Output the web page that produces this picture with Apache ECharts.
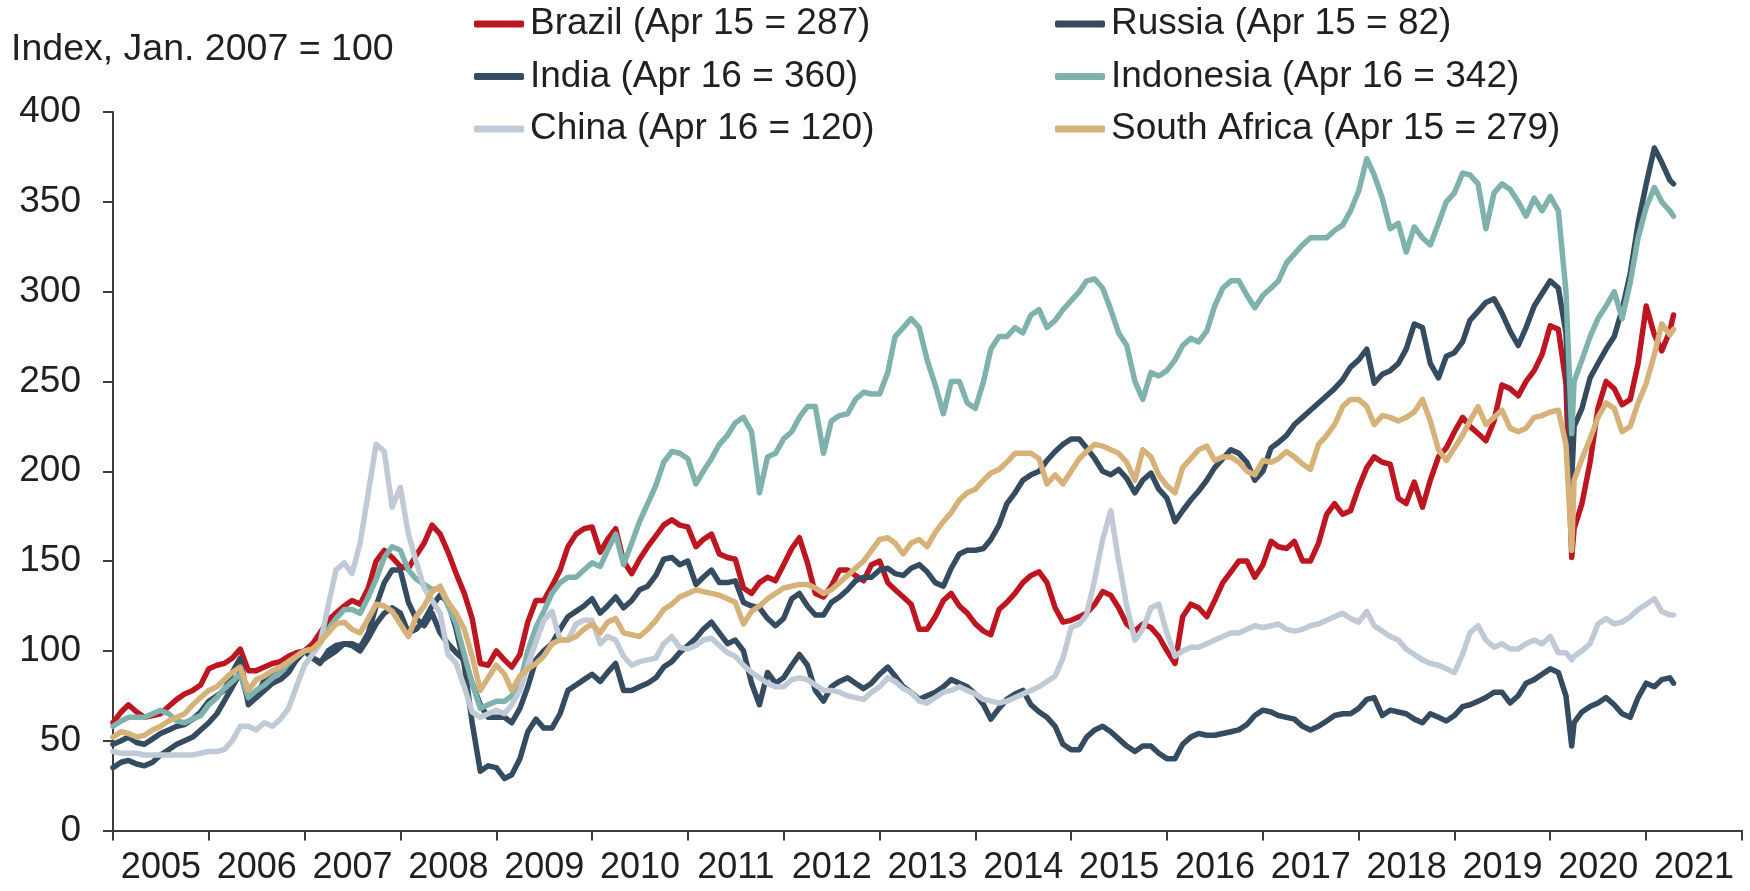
<!DOCTYPE html>
<html>
<head>
<meta charset="utf-8">
<script src="https://cdn.jsdelivr.net/npm/echarts@6/dist/echarts.min.js"></script>
<style>
  html, body { margin: 0; padding: 0; background: #fff; }
  #chart { width: 1750px; height: 891px; }
</style>
</head>
<body>
<div id="chart"></div>
<script>
// fechas: inicio de cada mes, más el mínimo de marzo 2020 y el último dato
var dates = [
  '2005-01','2005-02','2005-03','2005-04','2005-05','2005-06','2005-07','2005-08','2005-09','2005-10','2005-11','2005-12',
  '2006-01','2006-02','2006-03','2006-04','2006-05','2006-06','2006-07','2006-08','2006-09','2006-10','2006-11','2006-12',
  '2007-01','2007-02','2007-03','2007-04','2007-05','2007-06','2007-07','2007-08','2007-09','2007-10','2007-11','2007-12',
  '2008-01','2008-02','2008-03','2008-04','2008-05','2008-06','2008-07','2008-08','2008-09','2008-10','2008-11','2008-12',
  '2009-01','2009-02','2009-03','2009-04','2009-05','2009-06','2009-07','2009-08','2009-09','2009-10','2009-11','2009-12',
  '2010-01','2010-02','2010-03','2010-04','2010-05','2010-06','2010-07','2010-08','2010-09','2010-10','2010-11','2010-12',
  '2011-01','2011-02','2011-03','2011-04','2011-05','2011-06','2011-07','2011-08','2011-09','2011-10','2011-11','2011-12',
  '2012-01','2012-02','2012-03','2012-04','2012-05','2012-06','2012-07','2012-08','2012-09','2012-10','2012-11','2012-12',
  '2013-01','2013-02','2013-03','2013-04','2013-05','2013-06','2013-07','2013-08','2013-09','2013-10','2013-11','2013-12',
  '2014-01','2014-02','2014-03','2014-04','2014-05','2014-06','2014-07','2014-08','2014-09','2014-10','2014-11','2014-12',
  '2015-01','2015-02','2015-03','2015-04','2015-05','2015-06','2015-07','2015-08','2015-09','2015-10','2015-11','2015-12',
  '2016-01','2016-02','2016-03','2016-04','2016-05','2016-06','2016-07','2016-08','2016-09','2016-10','2016-11','2016-12',
  '2017-01','2017-02','2017-03','2017-04','2017-05','2017-06','2017-07','2017-08','2017-09','2017-10','2017-11','2017-12',
  '2018-01','2018-02','2018-03','2018-04','2018-05','2018-06','2018-07','2018-08','2018-09','2018-10','2018-11','2018-12',
  '2019-01','2019-02','2019-03','2019-04','2019-05','2019-06','2019-07','2019-08','2019-09','2019-10','2019-11','2019-12',
  '2020-01','2020-02','2020-03','2020-03-23','2020-04','2020-05','2020-06','2020-07','2020-08','2020-09','2020-10','2020-11','2020-12',
  '2021-01','2021-02','2021-03','2021-04','2021-04-15'
];

var brazil = [
  60, 66, 70, 66, 63, 64, 65, 69, 73, 76, 78, 81,
  90, 92, 93, 96, 101, 89, 89, 91, 93, 94, 97, 99,
  100, 104, 110, 117, 121, 125, 128, 126, 135, 150, 156, 152,
  147, 146, 153, 160, 170, 165, 155, 143, 132, 118, 93, 92,
  100, 95, 91, 98, 116, 128, 128, 136, 145, 158, 165, 168,
  169, 155, 162, 168, 150, 143, 151, 158, 164, 170, 173, 170,
  169, 158, 162, 165, 154, 152, 151, 135, 132, 138, 141, 139,
  148, 157, 163, 149, 132, 130, 136, 145, 145, 142, 139, 148,
  150, 138, 134, 130, 126, 112, 112, 119, 128, 132, 125, 121,
  115, 111, 109, 123, 127, 132, 138, 142, 144, 138, 124, 116,
  117, 119, 121, 126, 133, 131, 124, 115, 111, 115, 113, 108,
  100, 93, 119, 126, 124, 119, 128, 138, 144, 150, 150, 141,
  148, 161, 158, 157, 161, 150, 150, 160, 176, 182, 176, 178,
  191, 202, 208, 205, 204, 185, 182, 194, 180, 195, 208, 213,
  222, 230, 225, 221, 217, 228, 248, 246, 242, 250, 256, 265,
  281, 279, 249, 152, 168, 182, 205, 235, 250, 246, 237, 240, 260,
  292, 276, 267, 278, 287
];

var russia = [
  35, 38, 39, 37, 36, 38, 42, 45, 48, 50, 52, 56,
  60, 65, 72, 80, 88, 72, 74, 78, 82, 84, 88, 95,
  100, 96, 94, 97, 100, 104, 103, 100, 107, 115, 121, 124,
  121, 110, 112, 117, 125, 131, 127, 112, 92, 60, 33, 36,
  35, 29, 31, 40, 55, 62, 57, 57, 65, 78, 81, 84,
  87, 83, 88, 93, 78, 78, 80, 82, 85, 91, 94, 99,
  103, 107, 112, 116, 110, 104, 106, 100, 82, 70, 88, 82,
  85, 92, 98, 92, 78, 72, 80, 83, 85, 82, 79, 82,
  87, 91, 86, 80, 77, 73, 75, 77, 80, 84, 82, 80,
  76, 70, 62, 68, 73, 76, 78, 70, 66, 63, 58, 48,
  45, 45, 52, 56, 58, 55, 51, 47, 44, 47, 47, 43,
  40, 40, 48, 52, 54, 53, 53, 54, 55, 56, 59, 64,
  67, 66, 64, 63, 62, 58, 56, 58, 61, 64, 65, 65,
  68, 73, 74, 64, 67, 66, 65, 62, 60, 65, 63, 61,
  64, 69, 70, 72, 74, 77, 77, 71, 75, 82, 84, 87,
  90, 88, 75, 47, 60, 66, 69, 71, 74, 70, 65, 63, 74,
  82, 80, 84, 85, 82
];

var india = [
  48, 50, 52, 49, 48, 51, 54, 56, 58, 59, 62, 66,
  72, 75, 78, 88, 96, 70, 74, 84, 86, 89, 92, 95,
  100, 96, 93, 100, 103, 104, 104, 102, 110, 125, 138, 145,
  145, 127, 118, 114, 121, 110, 104, 99, 95, 82, 70, 63,
  63, 63, 60, 68, 80, 95, 100, 104, 112, 119, 122, 125,
  129, 121, 125, 130, 124, 128, 134, 136, 142, 151, 152, 148,
  150, 137, 141, 145, 138, 138, 139, 127, 125, 124, 118, 114,
  118, 129, 132, 125, 120, 120, 127, 130, 134, 139, 141, 141,
  145, 146, 143, 142, 146, 148, 144, 138, 136, 146, 154, 156,
  156, 157, 162, 170, 182, 188, 195, 198, 200, 206, 211, 215,
  218, 218, 213, 207, 200, 198, 201, 196, 188, 195, 199, 190,
  185, 172, 178, 184, 189, 195, 202, 207, 212, 210, 205, 195,
  200, 213, 216, 220, 226, 230, 234, 238, 242, 246, 251, 258,
  262, 268, 249, 254, 256, 260, 268, 282, 280, 260, 252, 264,
  266, 272, 284, 289, 294, 296, 288, 278, 270, 280, 292, 299,
  306, 302, 277, 195, 225, 235, 252, 260, 268, 275, 290, 310, 338,
  360, 380, 372, 362, 360
];

var indonesia = [
  58, 61, 63, 63, 63, 65, 67, 65, 61, 60, 62, 64,
  70, 74, 79, 83, 87, 74, 78, 81, 85, 88, 93, 97,
  100, 101, 104, 112, 118, 123, 123, 121, 130, 140, 152, 158,
  156, 145, 140, 137, 134, 135, 125, 115, 98, 82, 68, 70,
  72, 72, 75, 82, 100, 113, 122, 132, 138, 141, 141, 145,
  149, 147, 156, 165, 148, 160, 172, 182, 192, 205, 211, 210,
  207, 193, 200, 207, 215, 220, 227, 230, 222, 188, 208, 210,
  218, 222, 230, 236, 236, 210, 228, 231, 232, 240, 244, 243,
  243, 255, 275, 280, 285, 280, 262, 248, 232, 250, 250, 238,
  235, 250, 268, 275, 275, 280, 277, 287, 290, 280, 284, 290,
  295, 300, 306, 307, 302, 290, 277, 270, 250, 240, 255, 253,
  256, 262, 270, 274, 272, 278, 292, 302, 306, 306, 298, 291,
  298, 302, 306, 316, 321, 326, 330, 330, 330, 334, 337, 345,
  356, 374, 365, 352, 335, 338, 322, 336, 330, 326, 338, 350,
  355, 366, 365, 360, 335, 355, 360, 357, 350, 342, 352, 345,
  353, 345, 300, 221, 250, 262, 275, 285, 292, 300, 285, 305, 330,
  347, 358, 350, 345, 342
];

var china = [
  44, 43, 43, 43, 42, 42, 42, 42, 42, 42, 42, 43,
  44, 44, 45, 50, 58, 58, 56, 60, 58, 62, 68, 80,
  92, 98, 104, 125, 145, 149, 143, 160, 188, 215, 211, 180,
  191, 165, 150, 135, 128, 121, 98, 93, 80, 66, 63, 65,
  67, 65, 70, 78, 92, 105, 117, 122, 106, 106, 115, 117,
  117, 104, 108, 106, 97, 92, 94, 95, 96, 104, 108, 102,
  101, 103, 106, 107, 103, 99, 97, 92, 88, 85, 82, 80,
  80, 84, 85, 84, 81, 78, 78, 77, 75, 74, 73, 77,
  80, 85, 83, 79, 77, 72, 71, 74, 77, 78, 80, 78,
  76, 73, 72, 71, 72, 74, 76, 78, 80, 83, 86, 96,
  113, 115, 120, 140, 162, 178, 150, 125, 106, 112, 124, 126,
  110, 97, 100, 102, 102, 104, 106, 108, 110, 110, 112, 114,
  113, 114, 115, 112, 111, 112, 114, 115, 117, 119, 121, 118,
  116, 122, 114, 111, 108, 106, 101, 98, 95, 93, 92, 90,
  88, 98, 110, 114, 106, 102, 104, 101, 101, 104, 106, 104,
  108, 99, 99, 95, 97, 100, 104, 115, 118, 115, 116, 119, 123,
  126, 129, 122, 120, 120
];

var southAfrica = [
  52, 55, 54, 52, 53, 56, 58, 61, 63, 65, 70, 74,
  78, 80, 84, 88, 91, 78, 84, 86, 89, 91, 94, 97,
  100, 101, 105, 110, 115, 116, 112, 110, 118, 126, 125, 122,
  115, 108, 119, 125, 133, 136, 127, 121, 112, 97, 78, 85,
  92, 87, 78, 86, 90, 93, 97, 104, 106, 106, 108, 112,
  115, 110, 116, 118, 110, 109, 108, 112, 117, 123, 126, 130,
  132, 134, 133, 132, 131, 129, 127, 115, 122, 125, 129, 132,
  135, 136, 137, 137, 135, 132, 134, 138, 142, 146, 150, 156,
  162, 163, 160, 154, 160, 162, 158, 166, 172, 177, 184, 188,
  190, 195, 199, 201, 205, 210, 210, 210, 207, 193, 198, 193,
  200, 207, 211, 215, 214, 212, 210, 205, 195, 212, 208, 198,
  192, 188, 202, 207, 212, 214, 206, 208, 208, 205, 200, 198,
  206, 205, 207, 211, 208, 204, 201, 215, 220, 226, 236, 240,
  240, 236, 226, 231, 230, 228, 230, 233, 240, 228, 212, 206,
  213, 220, 228, 236, 226, 230, 234, 224, 222, 224, 230, 231,
  233, 234, 215, 156, 195, 207, 218, 230, 238, 235, 222, 225, 238,
  249, 265, 282, 276, 279
];

var names = {
  brazil: 'Brazil (Apr 15 = 287)',
  russia: 'Russia (Apr 15 = 82)',
  india: 'India (Apr 16 = 360)',
  indonesia: 'Indonesia (Apr 16 = 342)',
  china: 'China (Apr 16 = 120)',
  southAfrica: 'South Africa (Apr 15 = 279)'
};

var colores = {
  brazil: '#be1621',
  russia: '#344b60',
  india: '#344b60',
  indonesia: '#7fb2ad',
  china: '#bfcad6',
  southAfrica: '#d6b27a'
};

var textColor = '#231f20';
var axisColor = '#3c3c3c';
var fontFam = '"Liberation Sans", Arial, sans-serif';
var DAY = 86400000;

function pares(valores) {
  return valores.map(function (v, i) { return [dates[i], v]; });
}

function serie(clave, valores) {
  return {
    name: names[clave],
    type: 'line',
    xAxisIndex: 0,
    data: pares(valores),
    showSymbol: false,
    symbol: 'none',
    color: colores[clave],
    lineStyle: { width: 5.5, color: colores[clave], join: 'round', cap: 'round' }
  };
}

var leyendaBase = {
  orient: 'vertical',
  top: 4,
  padding: 0,
  itemGap: 12.5,
  itemWidth: 50,
  itemHeight: 7,
  icon: 'roundRect',
  selectedMode: false,
  textStyle: { color: textColor, fontSize: 37, fontFamily: fontFam, lineHeight: 40, padding: [0, 0, 0, 1] }
};

var chart = echarts.init(document.getElementById('chart'));

chart.setOption({
  animation: false,
  backgroundColor: '#fff',
  title: {
    text: 'Index, Jan. 2007 = 100',
    left: 11,
    top: 30,
    padding: 0,
    textStyle: { color: textColor, fontSize: 37.5, fontWeight: 'normal', fontFamily: fontFam, lineHeight: 40 }
  },
  legend: [
    Object.assign({}, leyendaBase, { left: 474, data: [names.brazil, names.india, names.china] }),
    Object.assign({}, leyendaBase, { left: 1055, data: [names.russia, names.indonesia, names.southAfrica] })
  ],
  grid: { left: 113, right: 8, top: 112, bottom: 60.5, containLabel: false },
  xAxis: [
    {
      type: 'time',
      min: '2005-01-01',
      max: '2022-01-01',
      minInterval: 360 * DAY,
      maxInterval: 370 * DAY,
      axisLine: { show: true, lineStyle: { color: axisColor, width: 2 } },
      axisTick: { show: true, length: 10, lineStyle: { color: axisColor, width: 2 } },
      axisLabel: { show: false },
      splitLine: { show: false }
    },
    {
      // solo etiquetas, centradas entre las marcas de cada año
      type: 'value',
      min: 2005,
      max: 2022,
      interval: 0.5,
      position: 'bottom',
      axisLine: { show: false },
      axisTick: { show: false },
      splitLine: { show: false },
      axisLabel: {
        margin: 20,
        color: textColor,
        fontSize: 36,
        fontFamily: fontFam,
        formatter: function (v) { return v % 1 ? String(Math.floor(v)) : ''; }
      }
    }
  ],
  yAxis: {
    type: 'value',
    min: 0,
    max: 400,
    interval: 50,
    axisLine: { show: true, lineStyle: { color: axisColor, width: 2 } },
    axisTick: { show: true, length: 10, lineStyle: { color: axisColor, width: 2 } },
    axisLabel: { margin: 32, color: textColor, fontSize: 37, fontFamily: fontFam },
    splitLine: { show: false }
  },
  series: [
    serie('brazil', brazil),
    serie('russia', russia),
    serie('india', india),
    serie('indonesia', indonesia),
    serie('china', china),
    serie('southAfrica', southAfrica)
  ]
});
</script>
</body>
</html>
